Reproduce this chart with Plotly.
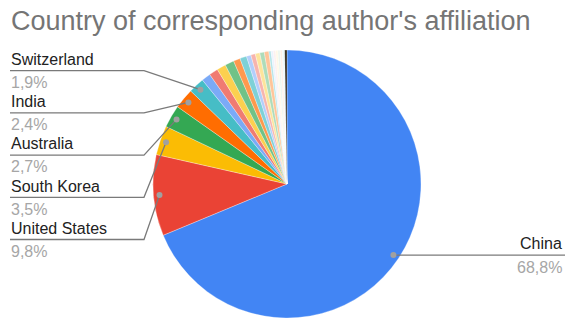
import math
import plotly.graph_objects as go

# ---- data (paper counts, total 368) ----
countries = ["China", "United States", "South Korea", "Australia", "India", "Switzerland",
             "Other 1", "Other 2", "Other 3", "Other 4", "Other 5", "Other 6",
             "Other 7", "Other 8", "Other 9", "Other 10", "Other 11", "Other 12",
             "Other 13", "Other 14", "Other 15", "Other 16", "Other 17", "Other 18", "Other 19"]
counts = [253, 36, 13, 10, 9, 7,
          4, 4, 4, 4, 3, 3,
          2, 2, 2, 2, 2, 1,
          1, 1, 1, 1, 1, 1, 1]
colors = ["#4285F4", "#EA4335", "#FBBC04", "#34A853", "#FF6D01", "#46BDC6",
          "#7BAAF7", "#F07B72", "#FCD04F", "#71C287", "#FF994D", "#7ED1D7",
          "#B3CEFB", "#F7B4AE", "#FDE49B", "#AEDCBA", "#FFC599", "#B5E5E8",
          "#ECF3FE", "#FDF0EF", "#FFF8E6", "#EBF6EE", "#FFF0E6", "#EDF8F9", "#2B2416"]
labeled_left = ["Switzerland", "India", "Australia", "South Korea", "United States"]
labeled_right = ["China"]

W, H = 565, 318
CX, CY, R = 287, 184, 134

def px(x):
    return x / W

def py(y):
    return 1 - y / H

fig = go.Figure(go.Pie(
    labels=countries, values=counts, sort=False, direction="clockwise", rotation=0,
    marker=dict(colors=colors, line=dict(color="rgba(255,255,255,0.6)", width=0.5)),
    textinfo="none", hoverinfo="label+percent", showlegend=False,
    domain=dict(x=[px(CX - R), px(CX + R)], y=[py(CY + R), py(CY - R)]),
))

total = sum(counts)
cum = 0
mid = {}
for c, v in zip(countries, counts):
    mid[c] = (cum + v / 2) / total * 2 * math.pi
    cum += v

def pct(c):
    v = counts[countries.index(c)]
    return f"{v / total * 100:.1f}%".replace(".", ",")

def dot(c):
    a = mid[c]
    rr = R * 0.955
    return CX + rr * math.sin(a), CY - rr * math.cos(a)

shapes, annotations = [], []
LINE = "#7a7a7a"
DOTC = "#a0a0a0"
FONT = "Liberation Sans, Arial, sans-serif"

def add_dot(x, y):
    shapes.append(dict(type="circle", xref="paper", yref="paper",
                       x0=px(x - 3), x1=px(x + 3), y0=py(y + 3), y1=py(y - 3),
                       fillcolor=DOTC, line=dict(width=0)))

for i, c in enumerate(labeled_left):
    ny = 59.5 + i * 42.2
    ly = ny + 11.2
    dx, dy = dot(c)
    shapes.append(dict(type="path", xref="paper", yref="paper",
                       path=f"M {px(10)},{py(ly)} L {px(144)},{py(ly)} L {px(dx)},{py(dy)}",
                       line=dict(color=LINE, width=1.3)))
    add_dot(dx, dy)
    annotations.append(dict(x=px(9), y=py(ny), xref="paper", yref="paper", text=c,
                            showarrow=False, xanchor="left", yanchor="middle",
                            font=dict(family=FONT, size=16, color="#222222")))
    annotations.append(dict(x=px(9), y=py(ny + 23), xref="paper", yref="paper", text=pct(c),
                            showarrow=False, xanchor="left", yanchor="middle",
                            font=dict(family=FONT, size=16, color="#a6a6a6")))

for c in labeled_right:
    dx, dy = dot(c)
    shapes.append(dict(type="path", xref="paper", yref="paper",
                       path=f"M {px(dx)},{py(dy)} L {px(565)},{py(dy)}",
                       line=dict(color=LINE, width=1.3)))
    add_dot(dx, dy)
    annotations.append(dict(x=px(564), y=py(dy - 11.2), xref="paper", yref="paper", text=c,
                            showarrow=False, xanchor="right", yanchor="middle",
                            font=dict(family=FONT, size=16, color="#222222")))
    annotations.append(dict(x=px(564), y=py(dy + 12.5), xref="paper", yref="paper", text=pct(c),
                            showarrow=False, xanchor="right", yanchor="middle",
                            font=dict(family=FONT, size=16, color="#a6a6a6")))

annotations.append(dict(x=px(9), y=py(21), xref="paper", yref="paper",
                        text="Country of corresponding author's affiliation",
                        showarrow=False, xanchor="left", yanchor="middle",
                        font=dict(family=FONT, size=27, color="#757575")))

fig.update_layout(width=W, height=H, margin=dict(l=0, r=0, t=0, b=0),
                  paper_bgcolor="white", plot_bgcolor="white",
                  shapes=shapes, annotations=annotations)
fig.write_html("out.html", config={"displayModeBar": False},
               post_script="document.body.style.margin='0';")
